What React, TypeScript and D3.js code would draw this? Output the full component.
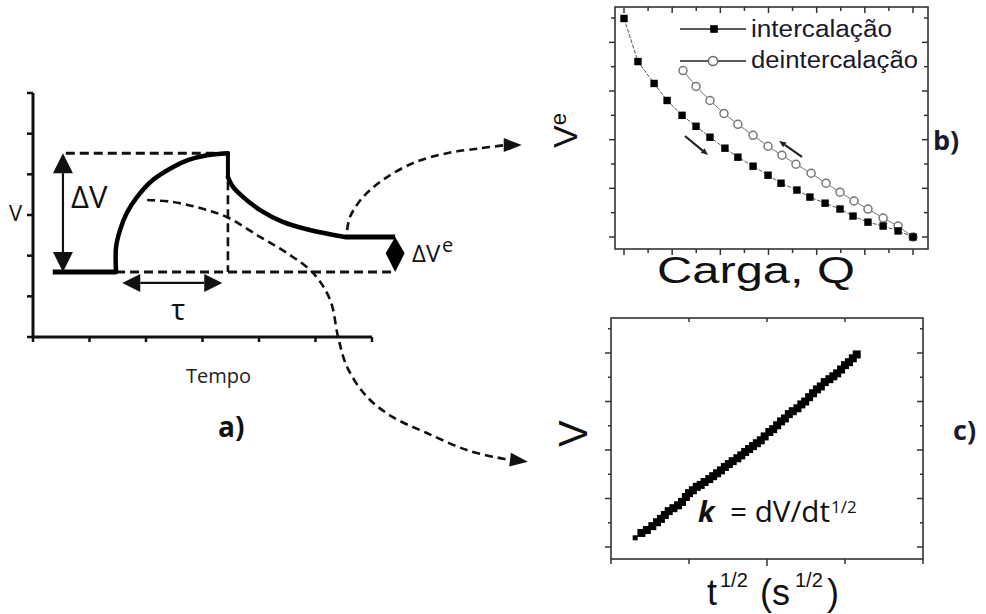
import React from 'react';
import * as d3 from 'd3';

// ---------- Panel a (schematic GITT step) ----------
const aTicks = [0, 1, 2, 3, 4, 5, 6];
const aBaseline = [[0.35, 1.6], [1.47, 1.6]];
const aRise = [[1.47, 1.6], [1.47, 2.21], [1.54, 2.63], [1.66, 3.05], [1.84, 3.44], [2.12, 3.86], [2.48, 4.18], [2.74, 4.35], [3.08, 4.47], [3.45, 4.52]];
const aDrop = [[3.45, 4.52], [3.45, 3.93]];
const aDecay = [[3.45, 3.93], [3.54, 3.69], [3.72, 3.44], [4.02, 3.12], [4.42, 2.83], [4.9, 2.63], [5.52, 2.46]];
const aPlateau = [[5.52, 2.46], [6.41, 2.46]];
const aTopDash = [[0.58, 4.52], [3.45, 4.52]];
const aBottomDash = [[1.47, 1.6], [6.41, 1.6]];
const aVertDash = [[3.45, 4.52], [3.45, 1.6]];
const aDeltaV = [[0.53, 1.6], [0.53, 4.52]];
const aTau = [[1.58, 1.33], [3.35, 1.33]];
const aDeltaVe = [6.41, 2.46, 2.06, 1.6];
const aCurveToB = [[5.56, 2.63], [5.61, 2.95], [5.84, 3.44], [6.19, 3.86], [6.73, 4.28], [7.33, 4.52], [7.91, 4.64], [8.35, 4.72], [8.65, 4.72]];
const aCurveToC = [[2.02, 3.37], [2.48, 3.32], [2.96, 3.17], [3.43, 2.95], [4.02, 2.46], [4.5, 2.06], [4.96, 1.57], [5.26, 0.91], [5.4, 0], [5.56, -0.74], [5.91, -1.47], [6.37, -1.97], [6.97, -2.36], [7.68, -2.78], [8.35, -3.0], [8.76, -3.07]];

// ---------- Panel b (Ve vs charge) ----------
const bTicksX = [0, 1, 2, 3, 4, 5, 6, 7, 8, 9, 10, 11, 12];
const bTicksY = [0, 1, 2, 3, 4, 5, 6, 7, 8, 9];
const bInterQ = [0, 0.58, 1.25, 1.79, 2.41, 2.99, 3.57, 4.19, 4.73, 5.36, 5.98, 6.52, 7.18, 7.72, 8.35, 8.97, 9.51, 10.13, 10.76, 11.38, 12];
const bInterV = [8.98, 7.21, 6.31, 5.61, 5.0, 4.55, 4.1, 3.65, 3.28, 2.91, 2.54, 2.21, 1.93, 1.64, 1.39, 1.15, 0.86, 0.61, 0.45, 0.25, 0];
const bDeintQ = [2.45, 2.99, 3.57, 4.15, 4.73, 5.36, 5.98, 6.56, 7.14, 7.77, 8.39, 8.97, 9.55, 10.13, 10.76, 11.38, 12];
const bDeintV = [6.84, 6.19, 5.61, 5.08, 4.63, 4.18, 3.73, 3.36, 2.99, 2.62, 2.21, 1.84, 1.48, 1.15, 0.78, 0.45, 0];
const bArrowDown = [[2.53, 4.15], [3.49, 3.37]];
const bArrowUp = [[7.39, 3.29], [6.44, 3.95]];
const bLegend = ['intercalação', 'deintercalação'];

// ---------- Panel c (V vs t^1/2) ----------
const cTicksX = [0, 10, 20, 30, 40];
const cTicksY = [0, 5, 10, 15, 20, 25, 30, 35, 40, 45];
const cT = [3.1, 3.9, 4.6, 5.3, 5.9, 6.4, 6.9, 7.4, 8.0, 8.6, 9.1, 9.6, 10.0, 10.5, 11.0, 11.5, 12.0, 12.6, 13.1, 13.6, 14.1, 14.6, 15.1, 15.6, 16.2, 16.7, 17.2, 17.7, 18.2, 18.7, 19.2, 19.7, 20.3, 20.8, 21.3, 21.8, 22.3, 22.8, 23.3, 23.9, 24.4, 24.9, 25.4, 25.9, 26.4, 26.9, 27.4, 28.0, 28.5, 29.0, 29.5, 30.0, 30.5, 31.0, 31.5];
const cV = [1.9, 2.9, 3.5, 4.3, 5.1, 5.8, 6.6, 7.4, 8.0, 8.6, 9.3, 10.3, 11.1, 11.7, 12.4, 12.8, 13.4, 14.0, 14.6, 15.2, 15.8, 16.5, 17.1, 17.7, 18.3, 18.9, 19.6, 20.2, 20.8, 21.4, 22.0, 22.8, 23.7, 24.3, 25.1, 25.9, 26.5, 27.4, 28.0, 28.6, 29.4, 30.0, 30.9, 31.7, 32.5, 33.1, 34.0, 34.6, 35.2, 35.8, 36.6, 37.5, 38.1, 38.9, 39.7];

const FA = "'Open Sans', 'DejaVu Sans', sans-serif";
const FB = "'Liberation Sans', Arial, sans-serif";
const INK = '#111';

function headPts(tx: number, ty: number, fx: number, fy: number, L: number, W: number) {
  const dx = tx - fx, dy = ty - fy;
  const d = Math.hypot(dx, dy) || 1;
  const ux = dx / d, uy = dy / d;
  const bx = tx - ux * L, by = ty - uy * L;
  return {
    pts: `${tx},${ty} ${bx - uy * W},${by + ux * W} ${bx + uy * W},${by - ux * W}`,
    bx, by,
  };
}

export default function App() {
  // scales
  const xA = d3.scaleLinear().domain([0, 6]).range([33, 372]);
  const yA = d3.scaleLinear().domain([0, 6]).range([337, 93]);
  const xB = d3.scaleLinear().domain([0, 12]).range([624, 913]);
  const yB = d3.scaleLinear().domain([0, 9]).range([237, 18]);
  const xC = d3.scaleLinear().domain([0, 40]).range([611, 923]);
  const yC = d3.scaleLinear().domain([0, 40]).range([547, 353]);

  const lineA = d3.line<number[]>().x(d => xA(d[0])).y(d => yA(d[1]));
  const smoothA = d3.line<number[]>().x(d => xA(d[0])).y(d => yA(d[1])).curve(d3.curveCatmullRom.alpha(0.5));
  const smoothPx = d3.line<number[]>().x(d => d[0]).y(d => d[1]).curve(d3.curveCatmullRom.alpha(0.5));

  // dashed curved arrows
  const curveArrow = (pts: number[][], key: string) => {
    const px = pts.map(p => [xA(p[0]), yA(p[1])]);
    const tip = px[px.length - 1];
    const prev = px[px.length - 2];
    const h = headPts(tip[0], tip[1], prev[0], prev[1], 18, 7);
    const body = px.slice(0, -1).concat([[h.bx, h.by]]);
    return (
      <g key={key}>
        <path d={smoothPx(body) || ''} fill="none" stroke={INK} strokeWidth={2.6} strokeDasharray="8,5" />
        <polygon points={h.pts} fill={INK} />
      </g>
    );
  };

  // double arrow
  const doubleArrow = (p: number[][], L: number, W: number, key: string) => {
    const a = [xA(p[0][0]), yA(p[0][1])];
    const b = [xA(p[1][0]), yA(p[1][1])];
    const h1 = headPts(a[0], a[1], b[0], b[1], L, W);
    const h2 = headPts(b[0], b[1], a[0], a[1], L, W);
    return (
      <g key={key}>
        <line x1={h1.bx} y1={h1.by} x2={h2.bx} y2={h2.by} stroke={INK} strokeWidth={2.2} />
        <polygon points={h1.pts} fill={INK} />
        <polygon points={h2.pts} fill={INK} />
      </g>
    );
  };

  // panel b/c boxes
  const boxB = { x0: 615, x1: 928, y0: 7, y1: 249 };
  const boxC = { x0: xC(0), x1: xC(40), y0: 318, y1: 559 };

  const bLineInter = d3.line<number>().x((_, i) => xB(bInterQ[i])).y(d => yB(d));
  const bLineDeint = d3.line<number>().x((_, i) => xB(bDeintQ[i])).y(d => yB(d));

  const smallArrow = (p: number[][], key: string) => {
    const a = [xB(p[0][0]), yB(p[0][1])];
    const b = [xB(p[1][0]), yB(p[1][1])];
    const h = headPts(b[0], b[1], a[0], a[1], 7, 3);
    return (
      <g key={key}>
        <line x1={a[0]} y1={a[1]} x2={h.bx} y2={h.by} stroke="#222" strokeWidth={2.2} />
        <polygon points={h.pts} fill="#222" />
      </g>
    );
  };

  const leg0 = { x: boxB.x0 + 65, y: 29 };

  return (
    <svg width={986} height={614} style={{ position: 'absolute', left: 0, top: 0, background: '#fff' }}>
      <rect width={986} height={614} fill="#fff" />

      {/* ================= Panel a ================= */}
      <g>
        <line x1={xA(0)} y1={yA(0)} x2={xA(6)} y2={yA(0)} stroke={INK} strokeWidth={3} />
        <line x1={xA(0)} y1={yA(0)} x2={xA(0)} y2={yA(6)} stroke={INK} strokeWidth={3} />
        {aTicks.map(t => (
          <line key={'ax' + t} x1={xA(t)} x2={xA(t)} y1={yA(0)} y2={yA(0) + 5} stroke={INK} strokeWidth={2.5} />
        ))}
        {aTicks.map(t => (
          <line key={'ay' + t} x1={xA(0) - 6} x2={xA(0)} y1={yA(t)} y2={yA(t)} stroke={INK} strokeWidth={2.5} />
        ))}

        {/* dashed reference lines */}
        <path d={lineA(aTopDash) || ''} stroke={INK} strokeWidth={3} strokeDasharray="9,5" fill="none" />
        <path d={lineA(aBottomDash) || ''} stroke={INK} strokeWidth={3} strokeDasharray="9,5" fill="none" />
        <path d={lineA(aVertDash) || ''} stroke={INK} strokeWidth={2.6} strokeDasharray="9,5" fill="none" />

        {/* voltage response */}
        <path d={lineA(aBaseline) || ''} stroke="#000" strokeWidth={5} fill="none" />
        <path d={smoothA(aRise) || ''} stroke="#000" strokeWidth={4.5} fill="none" strokeLinecap="round" />
        <path d={lineA(aDrop) || ''} stroke="#000" strokeWidth={4} fill="none" />
        <path d={smoothA(aDecay) || ''} stroke="#000" strokeWidth={4.5} fill="none" strokeLinecap="round" />
        <path d={lineA(aPlateau) || ''} stroke="#000" strokeWidth={5} fill="none" />

        {doubleArrow(aDeltaV, 20, 10, 'dv')}
        {doubleArrow(aTau, 18, 9, 'tau')}

        {/* Delta Ve diamond */}
        <polygon
          points={`${xA(aDeltaVe[0])},${yA(aDeltaVe[1])} ${xA(aDeltaVe[0]) + 9.5},${yA(aDeltaVe[2])} ${xA(aDeltaVe[0])},${yA(aDeltaVe[3])} ${xA(aDeltaVe[0]) - 9.5},${yA(aDeltaVe[2])}`}
          fill="#000"
        />

        {curveArrow(aCurveToB, 'cb')}
        {curveArrow(aCurveToC, 'cc')}

        <text x={9} y={221} fontFamily={FA} fontSize={22} fill={INK}>V</text>
        <text x={71} y={208} fontFamily={FA} fontSize={31} fill={INK}>ΔV</text>
        <text x={178} y={320} fontFamily={FA} fontSize={30} fill={INK} textAnchor="middle">τ</text>
        <text x={412} y={262} fontFamily={FA} fontSize={24} fill={INK}>ΔV</text>
        <text x={442} y={252} fontFamily={FA} fontSize={20} fill={INK}>e</text>
        <text x={186} y={383} fontFamily={FA} fontSize={20} fill="#222">Tempo</text>
        <text x={218} y={437} fontFamily={FA} fontSize={28} fontWeight="bold" fill={INK}>a)</text>
      </g>

      {/* ================= Panel b ================= */}
      <g>
        <rect x={boxB.x0} y={boxB.y0} width={boxB.x1 - boxB.x0} height={boxB.y1 - boxB.y0} fill="none" stroke="#333" strokeWidth={1.6} />
        {bTicksX.map(t => {
          const L = t % 2 === 0 ? 6 : 4;
          return (
            <g key={'bx' + t}>
              <line x1={xB(t)} x2={xB(t)} y1={boxB.y1} y2={boxB.y1 + L} stroke="#333" strokeWidth={1.5} />
              <line x1={xB(t)} x2={xB(t)} y1={boxB.y0} y2={boxB.y0 + L} stroke="#333" strokeWidth={1.5} />
            </g>
          );
        })}
        {bTicksY.map(t => {
          const L = t % 2 === 0 ? 6 : 4;
          return (
            <g key={'by' + t}>
              <line x1={boxB.x0 - L} x2={boxB.x0} y1={yB(t)} y2={yB(t)} stroke="#333" strokeWidth={1.5} />
              <line x1={boxB.x1 - L} x2={boxB.x1} y1={yB(t)} y2={yB(t)} stroke="#333" strokeWidth={1.5} />
            </g>
          );
        })}

        <path d={bLineDeint(bDeintV) || ''} fill="none" stroke="#777" strokeWidth={1} />
        <path d={bLineInter(bInterV) || ''} fill="none" stroke="#555" strokeWidth={1} strokeDasharray="4,1.5" />
        {bDeintV.map((v, i) => (
          <circle key={'dc' + i} cx={xB(bDeintQ[i])} cy={yB(v)} r={4} fill="#fff" stroke="#777" strokeWidth={1.5} />
        ))}
        {bInterV.map((v, i) => (
          <rect key={'is' + i} x={xB(bInterQ[i]) - 3.7} y={yB(v) - 3.7} width={7.4} height={7.4} fill="#000" />
        ))}

        {smallArrow(bArrowDown, 'ad')}
        {smallArrow(bArrowUp, 'au')}

        {/* legend */}
        <line x1={leg0.x} x2={leg0.x + 66} y1={leg0.y} y2={leg0.y} stroke="#222" strokeWidth={1.3} />
        <rect x={leg0.x + 34 - 3.8} y={leg0.y - 3.8} width={7.6} height={7.6} fill="#000" />
        <line x1={leg0.x} x2={leg0.x + 66} y1={leg0.y + 32} y2={leg0.y + 32} stroke="#222" strokeWidth={1.3} />
        <circle cx={leg0.x + 33} cy={leg0.y + 32} r={4.6} fill="#fff" stroke="#666" strokeWidth={1.5} />
        <text x={leg0.x + 71} y={leg0.y + 8} fontFamily={FB} fontSize={23} fill="#1a1a2e" textLength={141} lengthAdjust="spacingAndGlyphs">{bLegend[0]}</text>
        <text x={leg0.x + 71} y={leg0.y + 39} fontFamily={FB} fontSize={23} fill="#1a1a2e" textLength={167} lengthAdjust="spacingAndGlyphs">{bLegend[1]}</text>

        <text transform="translate(577,148) rotate(-90)" fontFamily={FB} fontSize={34} fill={INK}>
          V<tspan dy={-11} fontSize={22}>e</tspan>
        </text>
        <text x={657} y={283} fontFamily={FB} fontSize={36} fill={INK} textLength={198} lengthAdjust="spacingAndGlyphs">Carga, Q</text>
        <text x={933} y={150} fontFamily={FA} fontSize={27} fontWeight="bold" fill="#1a1a2e">b)</text>
      </g>

      {/* ================= Panel c ================= */}
      <g>
        <rect x={boxC.x0} y={boxC.y0} width={boxC.x1 - boxC.x0} height={boxC.y1 - boxC.y0} fill="none" stroke="#333" strokeWidth={1.6} />
        {cTicksX.map(t => (
          <g key={'cx' + t}>
            <line x1={xC(t)} x2={xC(t)} y1={boxC.y1} y2={boxC.y1 + (t === 20 ? 7 : 5)} stroke="#333" strokeWidth={1.5} />
            {t > 0 && t < 40 ? (
              <line x1={xC(t)} x2={xC(t)} y1={boxC.y0} y2={boxC.y0 + 4} stroke="#333" strokeWidth={1.5} />
            ) : null}
          </g>
        ))}
        {cTicksY.map(t => {
          const L = t % 10 === 0 ? 6 : 3;
          return (
            <g key={'cy' + t}>
              <line x1={boxC.x0 - L} x2={boxC.x0} y1={yC(t)} y2={yC(t)} stroke="#333" strokeWidth={1.5} />
              <line x1={boxC.x1 - L} x2={boxC.x1} y1={yC(t)} y2={yC(t)} stroke="#333" strokeWidth={1.5} />
            </g>
          );
        })}
        {cV.map((v, i) => {
          const s = i === 0 ? 5 : 8;
          return <rect key={'cs' + i} x={xC(cT[i]) - s / 2} y={yC(v) - s / 2} width={s} height={s} fill="#000" />;
        })}

        <text x={698} y={522} fontFamily={FA} fontSize={29} fontWeight="bold" fontStyle="italic" fill={INK}>k</text>
        <text x={730} y={522} fontFamily={FA} fontSize={29} fill={INK} textLength={100} lengthAdjust="spacingAndGlyphs">= dV/dt</text>
        <text x={831} y={513} fontFamily={FA} fontSize={17} fill={INK}>1/2</text>

        <text transform="translate(587,447) rotate(-90)" fontFamily={FB} fontSize={40} fill={INK}>V</text>
        <text fontFamily={FB} fontSize={36} fill={INK}>
          <tspan x={707} y={605}>t</tspan>
          <tspan x={720} y={587} fontSize={20}>1/2</tspan>
          <tspan x={760} y={605}>(s</tspan>
          <tspan x={795} y={587} fontSize={20}>1/2</tspan>
          <tspan x={827} y={605}>)</tspan>
        </text>
        <text x={953} y={440} fontFamily={FA} fontSize={27} fontWeight="bold" fill="#1a1a2e">c)</text>
      </g>
    </svg>
  );
}
